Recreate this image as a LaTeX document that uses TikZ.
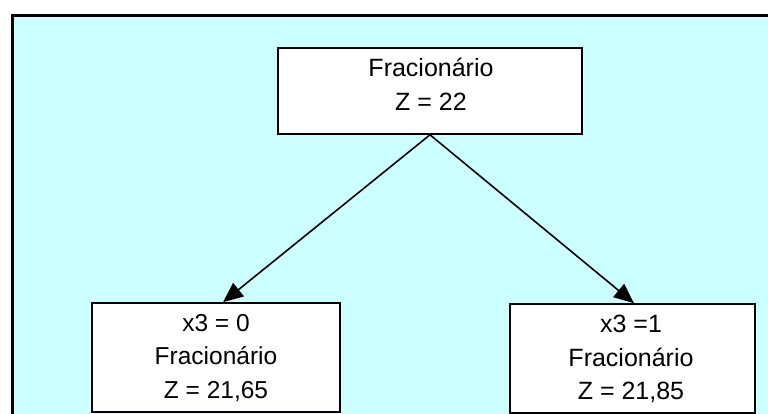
\documentclass[tikz,border=0pt]{standalone}
\usepackage{fontspec}
\setmainfont{Liberation Sans}
\usetikzlibrary{arrows.meta}
\definecolor{bgcyan}{HTML}{CCFFFF}
\tikzset{
  box/.style={draw=black, line width=1.6pt, fill=white, rectangle, inner sep=0pt},
  txt/.style={align=center, inner sep=0pt},
  conn/.style={line width=1.6pt, -{Triangle[length=20pt,width=17pt]}}
}
\begin{document}
\begin{tikzpicture}[x=1pt,y=-1pt]
\useasboundingbox (0,0) rectangle (768,414);
\clip (0,0) rectangle (768,414);
\fill[bgcyan] (12,15.5) rectangle (800,440);
\draw[line width=3pt] (12,440) -- (12,15.5) -- (800,15.5);
\node[box, minimum width=304pt, minimum height=86pt] (top) at (430,91) {};
\node[box, minimum width=248pt, minimum height=109pt] (left) at (216,357.5) {};
\node[box, minimum width=245pt, minimum height=109pt] (right) at (632.5,358.5) {};
\node[txt, font=\fontsize{25}{34}\selectfont] (toptext) at (431,84) {Fracionário\\Z = 22};
\node[txt, font=\fontsize{24.5}{33.5}\selectfont] (lefttext) at (216,358) {x3 = 0\\Fracionário\\Z = 21,65};
\node[txt, font=\fontsize{25}{33.5}\selectfont] (righttext) at (631,359) {x3 =1\\Fracionário\\Z = 21,85};
\draw[conn] (top.south) -- ([xshift=7pt]left.north);
\draw[conn] (top.south) -- ([xshift=1.5pt]right.north);
\end{tikzpicture}
\end{document}
